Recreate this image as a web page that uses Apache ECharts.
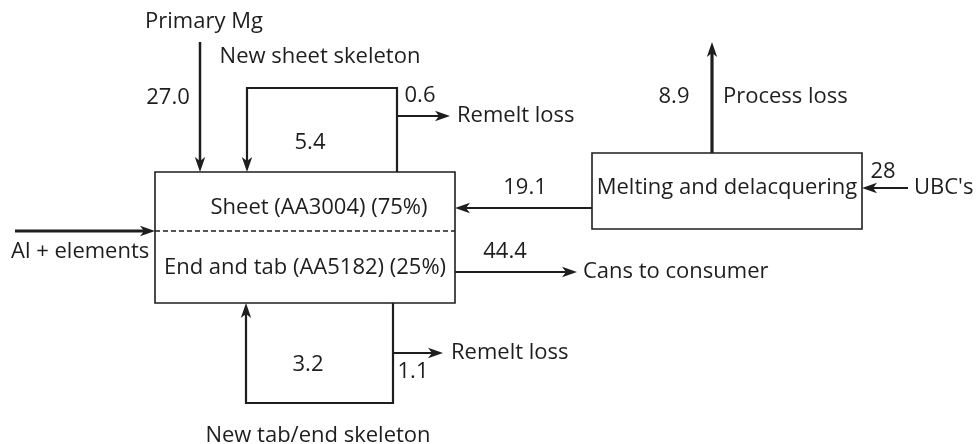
<!DOCTYPE html>
<html>
<head>
<meta charset="utf-8">
<title>Mg flow in beverage can making</title>
<script src="https://cdn.jsdelivr.net/npm/echarts@6.0.0/dist/echarts.min.js"></script>
<style>
  html, body { margin: 0; padding: 0; background: #fff; }
  #chart { width: 977px; height: 444px; }
</style>
</head>
<body>
<div id="chart"></div>
<script>
// flows, as printed on the diagram
var flowNames = ['Al + elements', 'Primary Mg', 'New sheet skeleton', 'Remelt loss', 'New tab/end skeleton', 'Remelt loss', '', 'Cans to consumer', 'Process loss', "UBC's"];
var flowValues = ['', '27.0', '5.4', '0.6', '3.2', '1.1', '19.1', '44.4', '8.9', '28'];
var processNames = ['Sheet (AA3004) (75%)', 'End and tab (AA5182) (25%)', 'Melting and delacquering'];

// layout (picture pixels, y down)
var boxRects = [[155, 172, 455, 303], [592, 153, 862, 229]];
var dividerY = 231;
var processAnchors = [[319, 208], [305, 268], [727, 188]];
var flowPaths = [
  [[15, 231], [155, 231]],
  [[200, 42], [200, 172]],
  [[397, 172], [397, 88], [247, 88], [247, 172]],
  [[397, 116], [450, 116]],
  [[393, 303], [393, 403], [246, 403], [246, 303]],
  [[393, 353], [443, 353]],
  [[592, 208], [455, 208]],
  [[455, 272], [577, 272]],
  [[712, 153], [712, 42]],
  [[908, 188], [862, 188]]
];
var flowWidths = [3, 2.5, 2.2, 2.2, 2.2, 2.2, 2.2, 2.2, 3.2, 2.2];
var nameAnchors = [[11, 252, 'left'], [204, 22, 'center'], [320, 57, 'center'], [457, 116, 'left'], [318, 436, 'center'],
  [451, 353, 'left'], [0, 0, 'left'], [583, 272, 'left'], [723, 97, 'left'], [914, 188, 'left']];
var valueAnchors = [[0, 0], [168, 98], [310, 143], [420, 96], [308, 365], [413, 372], [525, 188], [505, 252], [674, 97], [883, 172]];

var ink = '#1e1e1e';
var font = '22px "Open Sans"';

function label(p, text, align) {
  return {
    type: 'text',
    style: { x: p[0], y: p[1], text: text, fill: ink, font: font, align: align || 'center', verticalAlign: 'middle' }
  };
}

var chart = echarts.init(document.getElementById('chart'));

var option = {
  animation: false,
  grid: { left: 0, right: 0, top: 0, bottom: 0 },
  xAxis: { type: 'value', min: 0, max: 977, show: false },
  yAxis: { type: 'value', min: 0, max: 444, inverse: true, show: false },
  series: [
    {
      // outlines of the two process boxes
      type: 'custom',
      data: boxRects.map(function (r, i) { return [i]; }),
      renderItem: function (params, api) {
        var i = params.dataIndex;
        var r = boxRects[i];
        var a = api.coord([r[0], r[1]]);
        var b = api.coord([r[2], r[3]]);
        var children = [{
          type: 'rect',
          shape: { x: a[0], y: a[1], width: b[0] - a[0], height: b[1] - a[1] },
          style: { fill: 'none', stroke: ink, lineWidth: 1.6 }
        }];
        if (i === 0) {
          var d = api.coord([r[0], dividerY]);
          children.push({
            type: 'line',
            shape: { x1: a[0], y1: d[1], x2: b[0], y2: d[1] },
            style: { stroke: ink, lineWidth: 1.3, lineDash: [5, 3] }
          });
        }
        return { type: 'group', children: children };
      }
    },
    {
      // process names
      type: 'custom',
      data: processNames.map(function (n, i) { return [i]; }),
      renderItem: function (params, api) {
        var i = params.dataIndex;
        return label(api.coord(processAnchors[i]), processNames[i], 'center');
      }
    },
    {
      // material flows with arrowheads
      type: 'custom',
      data: flowNames.map(function (n, i) { return [i]; }),
      renderItem: function (params, api) {
        var i = params.dataIndex;
        var pts = flowPaths[i].map(function (p) { return api.coord(p); });
        var n = pts.length;
        var tip = pts[n - 1], prev = pts[n - 2];
        var dx = tip[0] - prev[0], dy = tip[1] - prev[1];
        var len = Math.sqrt(dx * dx + dy * dy);
        dx /= len; dy /= len;
        var L = 15, W = 5.2, notch = 4;
        var base = [tip[0] - dx * L, tip[1] - dy * L];
        var inner = [tip[0] - dx * (L - notch), tip[1] - dy * (L - notch)];
        var head = [tip, [base[0] - dy * W, base[1] + dx * W], inner, [base[0] + dy * W, base[1] - dx * W]];
        var line = pts.slice(0, n - 1).concat([inner]);
        var children = [
          { type: 'polyline', shape: { points: line }, style: { fill: 'none', stroke: ink, lineWidth: flowWidths[i] } },
          { type: 'polygon', shape: { points: head }, style: { fill: ink } }
        ];
        if (flowNames[i]) {
          var na = nameAnchors[i];
          children.push(label(api.coord([na[0], na[1]]), flowNames[i], na[2]));
        }
        if (flowValues[i]) {
          children.push(label(api.coord(valueAnchors[i]), flowValues[i], 'center'));
        }
        return { type: 'group', children: children };
      }
    }
  ]
};

chart.setOption(option);
</script>
</body>
</html>
